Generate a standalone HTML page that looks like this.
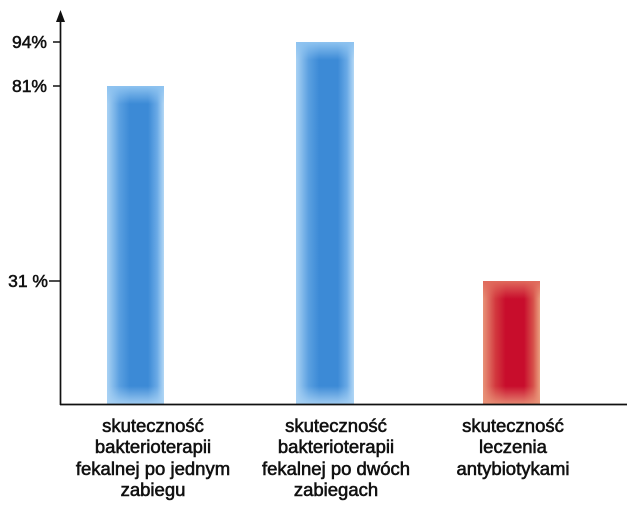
<!DOCTYPE html>
<html><head><meta charset="utf-8"><style>
html,body{margin:0;padding:0;background:#fff;}
svg{display:block;}
text{font-family:"Liberation Sans",Arial,sans-serif;fill:#111;}
.lab{font-size:18.5px;stroke:#111;stroke-width:0.6px;}
.tk{font-size:17.5px;stroke:#111;stroke-width:0.55px;}
</style></head><body>
<svg width="634" height="507" viewBox="0 0 634 507" xmlns="http://www.w3.org/2000/svg">
<defs>
<linearGradient id="bh" x1="0" x2="1" y1="0" y2="0">
<stop offset="0" stop-color="#a9d2f4"/><stop offset="0.22" stop-color="#5a9fe0"/><stop offset="0.4" stop-color="#3c8ad6"/><stop offset="0.72" stop-color="#3c8ad6"/><stop offset="0.88" stop-color="#6aaae6"/><stop offset="1" stop-color="#b4d8f5"/>
</linearGradient>
<linearGradient id="bt" x1="0" x2="0" y1="0" y2="1">
<stop offset="0" stop-color="#8ec3f0" stop-opacity="1"/><stop offset="1" stop-color="#8ec3f0" stop-opacity="0"/>
</linearGradient>
<linearGradient id="bb" x1="0" x2="0" y1="0" y2="1">
<stop offset="0" stop-color="#a9d2f4" stop-opacity="0"/><stop offset="1" stop-color="#a9d2f4" stop-opacity="0.9"/>
</linearGradient>
<linearGradient id="rh" x1="0" x2="1" y1="0" y2="0">
<stop offset="0" stop-color="#e89378"/><stop offset="0.22" stop-color="#d2383e"/><stop offset="0.4" stop-color="#c80d2c"/><stop offset="0.72" stop-color="#c80d2c"/><stop offset="0.88" stop-color="#d6504a"/><stop offset="1" stop-color="#eba07f"/>
</linearGradient>
<linearGradient id="rt" x1="0" x2="0" y1="0" y2="1">
<stop offset="0" stop-color="#e06a5c" stop-opacity="1"/><stop offset="1" stop-color="#e06a5c" stop-opacity="0"/>
</linearGradient>
<linearGradient id="rb" x1="0" x2="0" y1="0" y2="1">
<stop offset="0" stop-color="#e89378" stop-opacity="0"/><stop offset="1" stop-color="#e89378" stop-opacity="0.9"/>
</linearGradient>
</defs>

<!-- bars -->
<rect x="107" y="86" width="57" height="318" fill="url(#bh)"/>
<rect x="107" y="86" width="57" height="18" fill="url(#bt)"/>
<rect x="107" y="386" width="57" height="18" fill="url(#bb)"/>

<rect x="296" y="42" width="58" height="362" fill="url(#bh)"/>
<rect x="296" y="42" width="58" height="18" fill="url(#bt)"/>
<rect x="296" y="386" width="58" height="18" fill="url(#bb)"/>

<rect x="483" y="281" width="57" height="123" fill="url(#rh)"/>
<rect x="483" y="281" width="57" height="18" fill="url(#rt)"/>
<rect x="483" y="386" width="57" height="18" fill="url(#rb)"/>

<!-- axes -->
<line x1="60.5" y1="18" x2="60.5" y2="405" stroke="#111" stroke-width="1.7"/>
<polygon points="60.5,10 56,22 65,22" fill="#111"/>
<line x1="60" y1="404.5" x2="627" y2="404.5" stroke="#111" stroke-width="1.7"/>

<!-- ticks -->
<line x1="53" y1="42" x2="60" y2="42" stroke="#111" stroke-width="1.5"/>
<line x1="53" y1="86" x2="60" y2="86" stroke="#111" stroke-width="1.5"/>
<line x1="49" y1="281" x2="60" y2="281" stroke="#111" stroke-width="1.5"/>
<text class="tk" x="47" y="48" text-anchor="end">94%</text>
<text class="tk" x="47" y="92" text-anchor="end">81%</text>
<text class="tk" x="48" y="287" text-anchor="end">31 %</text>

<!-- labels -->
<g text-anchor="middle">
<text class="lab" x="153" y="432">skuteczność</text>
<text class="lab" x="153" y="453">bakterioterapii</text>
<text class="lab" x="153" y="475">fekalnej po jednym</text>
<text class="lab" x="153" y="496">zabiegu</text>

<text class="lab" x="336" y="432">skuteczność</text>
<text class="lab" x="336" y="453">bakterioterapii</text>
<text class="lab" x="336" y="475">fekalnej po dwóch</text>
<text class="lab" x="336" y="496">zabiegach</text>

<text class="lab" x="513" y="432">skuteczność</text>
<text class="lab" x="513" y="453">leczenia</text>
<text class="lab" x="513" y="475">antybiotykami</text>
</g>
</svg>
</body></html>
